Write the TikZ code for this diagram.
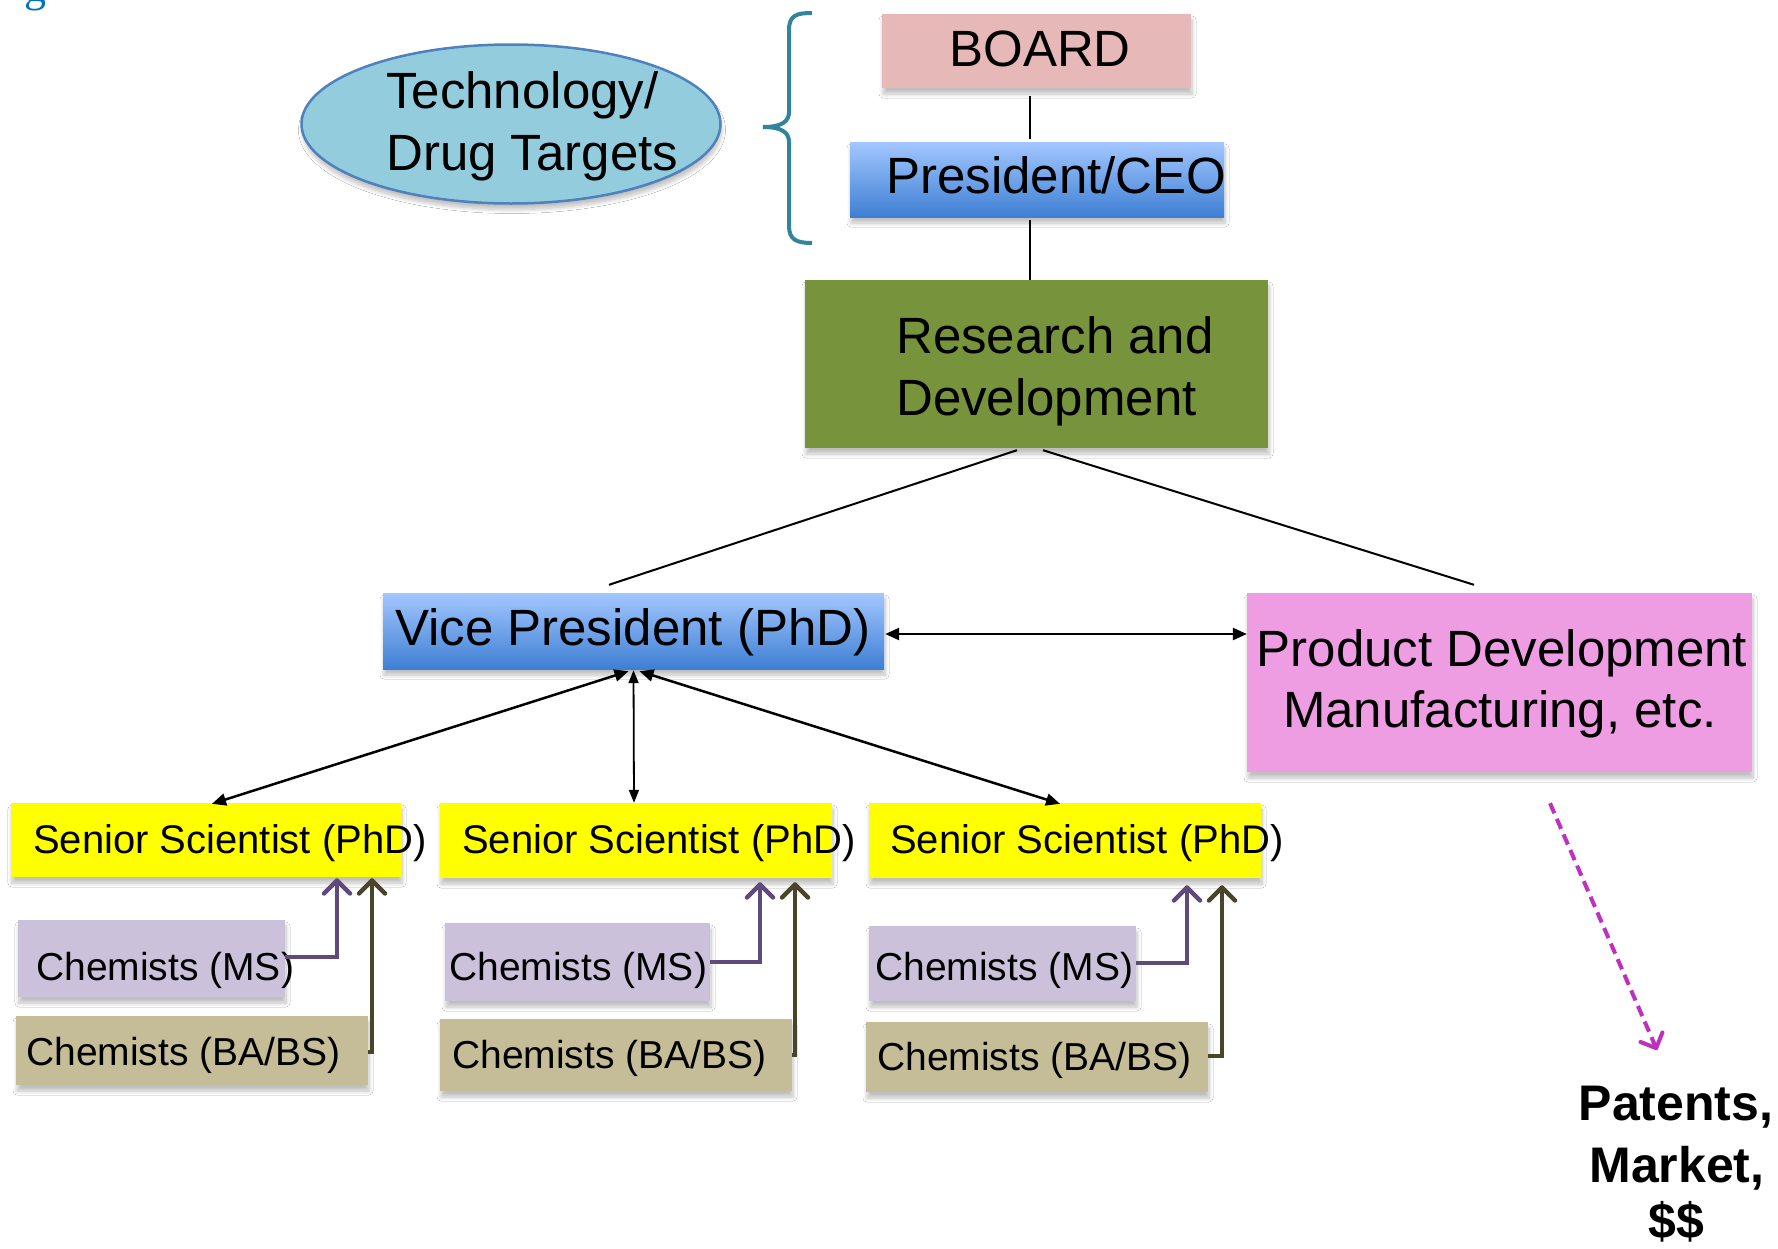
\documentclass[tikz,border=0pt]{standalone}
\usepackage{fontspec}
\setmainfont{Liberation Sans}
\newfontfamily\serifg{Liberation Serif}
\usetikzlibrary{arrows.meta, shapes.geometric, shadows.blur, calc}

\definecolor{boardc}{HTML}{E6B9B8}
\definecolor{bluetop}{HTML}{A3C7FF}
\definecolor{bluebot}{HTML}{3E7FD3}
\definecolor{rdc}{HTML}{77933C}
\definecolor{ellc}{HTML}{93CDDD}
\definecolor{elld}{HTML}{4F81BD}
\definecolor{bracec}{HTML}{31849B}
\definecolor{pdc}{HTML}{EE9DE3}
\definecolor{ssc}{HTML}{FFFF00}
\definecolor{msc}{HTML}{CCC1DA}
\definecolor{bac}{HTML}{C4BD97}
\definecolor{msa}{HTML}{604A7B}
\definecolor{baa}{HTML}{4A452A}
\definecolor{dashc}{HTML}{C030C0}
\definecolor{gblue}{HTML}{0070C0}

\tikzset{
  shad/.style={blur shadow={shadow xshift=1pt, shadow yshift=-6pt, shadow blur radius=4pt, shadow blur steps=8, shadow opacity=25}},
  box/.style={rectangle, inner sep=0pt, draw=none, shad},
  bluebox/.style={box, top color=bluetop, bottom color=bluebot},
  big/.style={font=\fontsize{51}{62}\selectfont, inner sep=0pt, anchor=base west},
  mid/.style={font=\fontsize{40}{48}\selectfont, inner sep=0pt, anchor=base west},
  sml/.style={font=\fontsize{39}{47}\selectfont, inner sep=0pt, anchor=base west},
  boldtxt/.style={font=\bfseries\fontsize{50}{62}\selectfont, inner sep=0pt, anchor=base},
  plainline/.style={draw=black, line width=2pt},
  biarrow/.style={draw=black, line width=2.5pt, {Triangle[length=14pt,width=12pt]}-{Triangle[length=14pt,width=12pt]}},
  thinbiarrow/.style={draw=black, line width=1.8pt, {Triangle[length=13pt,width=10pt]}-{Triangle[length=13pt,width=10pt]}},
  msarrow/.style={draw=msa, line width=4.5pt, -{Straight Barb[length=13pt,width=26pt,round]}},
  baarrow/.style={draw=baa, line width=4.5pt, -{Straight Barb[length=13pt,width=26pt,round]}},
}

\begin{document}
\begin{tikzpicture}[x=1pt, y=-1pt]
\fill[white] (0,0) rectangle (1778,1248);
\useasboundingbox (0,0) rectangle (1778,1248);

% fragment of cut-off text at top left
\begin{scope}
  \clip (0,0) rectangle (120,40);
  \node[font=\serifg\fontsize{44}{52}\selectfont, text=gblue, inner sep=0pt, anchor=base west] (frag) at (24,1) {g};
\end{scope}

% top boxes
\node[box, fill=boardc, minimum width=309pt, minimum height=74pt] (board) at (1036.5,51) {};
\node[big, anchor=base] (boardt) at (1040,66) {BOARD};
\node[bluebox, minimum width=374pt, minimum height=75pt] (pres) at (1037,179.5) {};
\node[big] (prest) at (886,193) {President/CEO};
\node[box, fill=rdc, minimum width=463pt, minimum height=168pt] (rd) at (1036.5,364) {};
\node[big] (rdt1) at (896,353) {Research and};
\node[big] (rdt2) at (896,415) {Development};

% ellipse
\node[ellipse, draw=elld, line width=2.5pt, fill=ellc, minimum width=419pt, minimum height=159pt, inner sep=0pt, shad] (tech) at (511,124) {};
\node[big] (techt1) at (386,108) {Technology/};
\node[big] (techt2) at (386,170) {Drug Targets};

% brace
\draw[bracec, line width=4pt] (812,13) .. controls (797,13) and (789,15) .. (789,30) -- (789,112) .. controls (789,122) and (781,127) .. (763,127) .. controls (781,127) and (789,132) .. (789,142) -- (789,226) .. controls (789,240) and (797,243) .. (812,243);

% top connectors
\draw[plainline] ($(board.south)+(-6.5,8)$) -- ($(pres.north)+(-7,-3)$);
\draw[plainline] ($(pres.south)+(-7,3)$) -- ($(rd.north)+(-6.5,0)$);

% middle level
\node[bluebox, minimum width=501pt, minimum height=76pt] (vp) at (633.5,631) {};
\node[big] (vpt) at (395,645) {Vice President (PhD)};
\node[box, fill=pdc, minimum width=505pt, minimum height=179pt] (pd) at (1499.5,682.5) {};
\node[big, anchor=base] (pdt1) at (1502,666) {Product Development};
\node[big, anchor=base] (pdt2) at (1500,727) {Manufacturing, etc.};

\draw[plainline] ($(rd.south)+(-19.5,2)$) -- ($(vp.north)+(-24.5,-8)$);
\draw[plainline] ($(rd.south)+(6.5,2)$) -- ($(pd.north)+(-25.5,-8)$);
\draw[biarrow] ($(vp.east)+(1,3)$) -- ($(vp.east -| pd.west)+(0,3)$);

% senior scientists
\node[box, fill=ssc, minimum width=390pt, minimum height=74pt] (ss1) at (206,840) {};
\node[mid] (ss1t) at (33,853) {Senior Scientist (PhD)};
\node[box, fill=ssc, minimum width=392pt, minimum height=75pt] (ss2) at (636,840.5) {};
\node[mid] (ss2t) at (462,853) {Senior Scientist (PhD)};
\node[box, fill=ssc, minimum width=392pt, minimum height=75pt] (ss3) at (1065,840.5) {};
\node[mid] (ss3t) at (890,853) {Senior Scientist (PhD)};

\draw[biarrow] ($(vp.south)+(-5,2)$) -- ($(ss1.north)+(6,1)$);
\draw[thinbiarrow] ($(vp.south)+(0,1)$) -- ($(ss2.north)+(-2,0)$);
\draw[biarrow] ($(vp.south)+(6,2)$) -- ($(ss3.north)+(-5,1)$);

% chemists MS
\node[box, fill=msc, minimum width=267pt, minimum height=77pt] (ms1) at (151.5,958.5) {};
\node[sml] (ms1t) at (36,980) {Chemists (MS)};
\node[box, fill=msc, minimum width=265pt, minimum height=78pt] (ms2) at (577.5,962) {};
\node[sml] (ms2t) at (449,980) {Chemists (MS)};
\node[box, fill=msc, minimum width=267pt, minimum height=75pt] (ms3) at (1002.5,963.5) {};
\node[sml] (ms3t) at (875,980) {Chemists (MS)};

% chemists BA/BS
\node[box, fill=bac, minimum width=352pt, minimum height=69pt] (ba1) at (192,1050.5) {};
\node[sml] (ba1t) at (26,1065) {Chemists (BA/BS)};
\node[box, fill=bac, minimum width=352pt, minimum height=72pt] (ba2) at (616,1055) {};
\node[sml] (ba2t) at (452,1068) {Chemists (BA/BS)};
\node[box, fill=bac, minimum width=342pt, minimum height=70pt] (ba3) at (1037,1057) {};
\node[sml] (ba3t) at (877,1070) {Chemists (BA/BS)};

% chemist arrows
\draw[msarrow] ($(ms1.east)+(0,-1.5)$) -| ($(ss1.south)+(131,1)$);
\draw[msarrow] (ms2.east) -| ($(ss2.south)+(124,4)$);
\draw[msarrow] ($(ms3.east)+(0,-0.5)$) -| ($(ss3.south)+(122,7)$);
\draw[baarrow] ($(ba1.east)+(0,1.5)$) -| ($(ss1.south)+(166,1)$);
\draw[baarrow] (ba2.east) -| ($(ss2.south)+(159,4)$);
\draw[baarrow] ($(ba3.east)+(0,-1)$) -| ($(ss3.south)+(157,7)$);

% outcome
\coordinate (dashend) at (1657,1050);
\draw[dashc, line width=4pt, dash pattern=on 11pt off 6pt, -{Straight Barb[length=12pt,width=24pt,round]}] ($(pd.south)+(50.5,31)$) -- (dashend);
\node[boldtxt] (pat1) at (1676,1120) {Patents,};
\node[boldtxt] (pat2) at (1677,1182) {Market,};
\node[boldtxt] (pat3) at (1676,1238) {\$\$};
\end{tikzpicture}
\end{document}
